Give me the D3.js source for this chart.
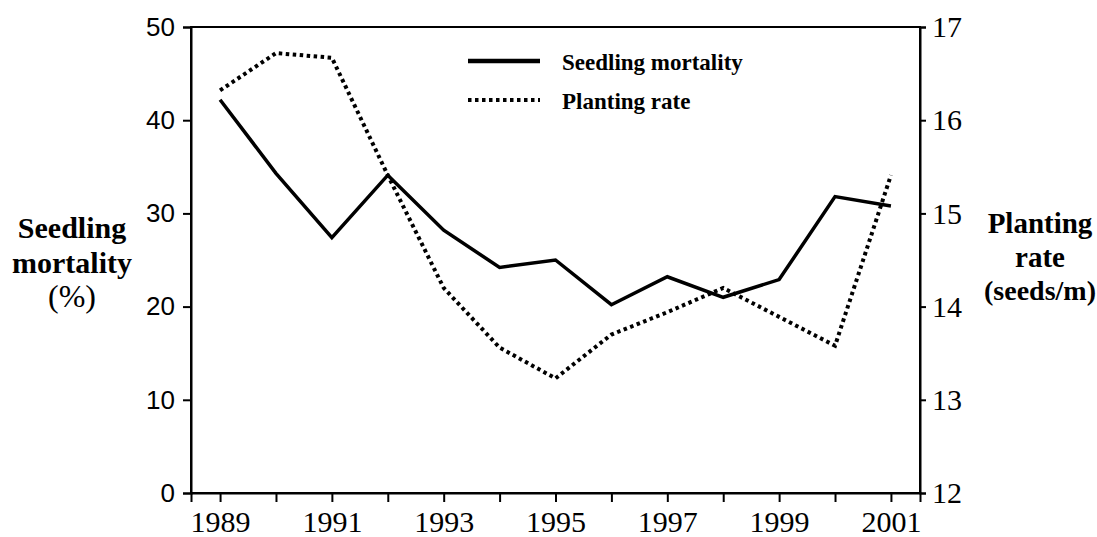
<!DOCTYPE html>
<html>
<head>
<meta charset="utf-8">
<script src="https://cdn.jsdelivr.net/npm/d3@7"></script>
<style>
  body { margin: 0; background: #fff; }
  svg { display: block; }
  .serif { font-family: "Liberation Serif", "Times New Roman", Times, serif; }
  .axis-serif text { font-family: "Liberation Serif", "Times New Roman", Times, serif; font-size: 30px; fill: #000; }
  .axis-sans text { font-family: "Liberation Sans", Arial, sans-serif; font-size: 26px; fill: #000; }
</style>
</head>
<body>
<div id="graph"></div>
<script>
// data
var years = [1989, 1990, 1991, 1992, 1993, 1994, 1995, 1996, 1997, 1998, 1999, 2000, 2001];
var mortality = [42.2, 34.3, 27.4, 34.1, 28.2, 24.2, 25.0, 20.2, 23.2, 21.0, 22.9, 31.8, 30.8];
var plantingRate = [16.32, 16.72, 16.67, 15.41, 14.2, 13.56, 13.23, 13.70, 13.94, 14.2, 13.89, 13.58, 15.41];
var leftTicks = [0, 10, 20, 30, 40, 50];
var rightTicks = [12, 13, 14, 15, 16, 17];
var leftTitle = ["Seedling", "mortality", "(%)"];
var rightTitle = ["Planting", "rate", "(seeds/m)"];
var legendNames = ["Seedling mortality", "Planting rate"];

var width = 1097;
var height = 537;
var margin = {top: 27, right: 177, bottom: 44, left: 191};
var plotW = width - margin.left - margin.right;
var plotH = height - margin.top - margin.bottom;

var svg = d3.select("#graph")
    .append("svg")
    .attr("width", width)
    .attr("height", height);

var g = svg.append("g")
    .attr("transform", "translate(" + margin.left + "," + margin.top + ")");

var x = d3.scaleLinear()
    .domain([1988.48, 2001.52])
    .range([0, plotW]);

var yLeft = d3.scaleLinear()
    .domain([0, 50])
    .range([plotH, 0]);

var yRight = d3.scaleLinear()
    .domain([12, 17])
    .range([plotH, 0]);

// frame
g.append("rect")
    .attr("x", 0)
    .attr("y", 0)
    .attr("width", plotW)
    .attr("height", plotH)
    .attr("fill", "none")
    .attr("stroke", "#000")
    .attr("stroke-width", 2);

var xAxis = g.append("g")
    .attr("class", "axis-serif")
    .attr("transform", "translate(0," + plotH + ")")
    .call(d3.axisBottom(x)
        .tickValues(years)
        .tickSize(9)
        .tickPadding(9)
        .tickFormat(function(d) { return d % 2 == 1 ? d : ""; }));

var leftAxis = g.append("g")
    .attr("class", "axis-sans")
    .call(d3.axisLeft(yLeft)
        .tickValues(leftTicks)
        .tickSize(8)
        .tickPadding(8)
        .tickFormat(d3.format("d")));

var rightAxis = g.append("g")
    .attr("class", "axis-serif")
    .attr("transform", "translate(" + plotW + ",0)")
    .call(d3.axisRight(yRight)
        .tickValues(rightTicks)
        .tickSize(6)
        .tickPadding(6)
        .tickFormat(d3.format("d")));

[xAxis, leftAxis, rightAxis].forEach(function(a) {
    a.select(".domain").attr("stroke-width", 2);
    a.selectAll(".tick line").attr("stroke-width", 2);
});

// lines
var lineLeft = d3.line()
    .x(function(d, i) { return x(years[i]); })
    .y(function(d) { return yLeft(d); });

var lineRight = d3.line()
    .x(function(d, i) { return x(years[i]); })
    .y(function(d) { return yRight(d); });

g.append("path")
    .datum(plantingRate)
    .attr("d", lineRight)
    .attr("fill", "none")
    .attr("stroke", "#000")
    .attr("stroke-width", 4)
    .attr("stroke-dasharray", "3.5,3.5");

g.append("path")
    .datum(mortality)
    .attr("d", lineLeft)
    .attr("fill", "none")
    .attr("stroke", "#000")
    .attr("stroke-width", 3.5)
    .attr("stroke-linejoin", "miter");

// legend
var legend = svg.append("g")
    .attr("class", "serif");

legendNames.forEach(function(name, i) {
    var ly = 61 + i * 39;
    legend.append("line")
        .attr("x1", 468)
        .attr("x2", 540)
        .attr("y1", ly)
        .attr("y2", ly)
        .attr("stroke", "#000")
        .attr("stroke-width", i == 0 ? 4.5 : 4)
        .attr("stroke-dasharray", i == 0 ? null : "3.5,3.5");
    legend.append("text")
        .attr("x", 562)
        .attr("y", ly + 9)
        .style("font-size", "23px")
        .style("font-weight", "bold")
        .text(name);
});

// axis titles
var leftBase = [238, 273, 307];
leftTitle.forEach(function(t, i) {
    svg.append("text")
        .attr("class", "serif")
        .attr("x", 72)
        .attr("y", leftBase[i])
        .attr("text-anchor", "middle")
        .style("font-size", i == 2 ? "32px" : "30px")
        .style("font-weight", i == 2 ? "normal" : "bold")
        .text(t);
});

var rightBase = [233, 267, 300];
rightTitle.forEach(function(t, i) {
    svg.append("text")
        .attr("class", "serif")
        .attr("x", 1040)
        .attr("y", rightBase[i])
        .attr("text-anchor", "middle")
        .style("font-size", i == 2 ? "28px" : "29px")
        .style("font-weight", "bold")
        .text(t);
});
</script>
</body>
</html>
